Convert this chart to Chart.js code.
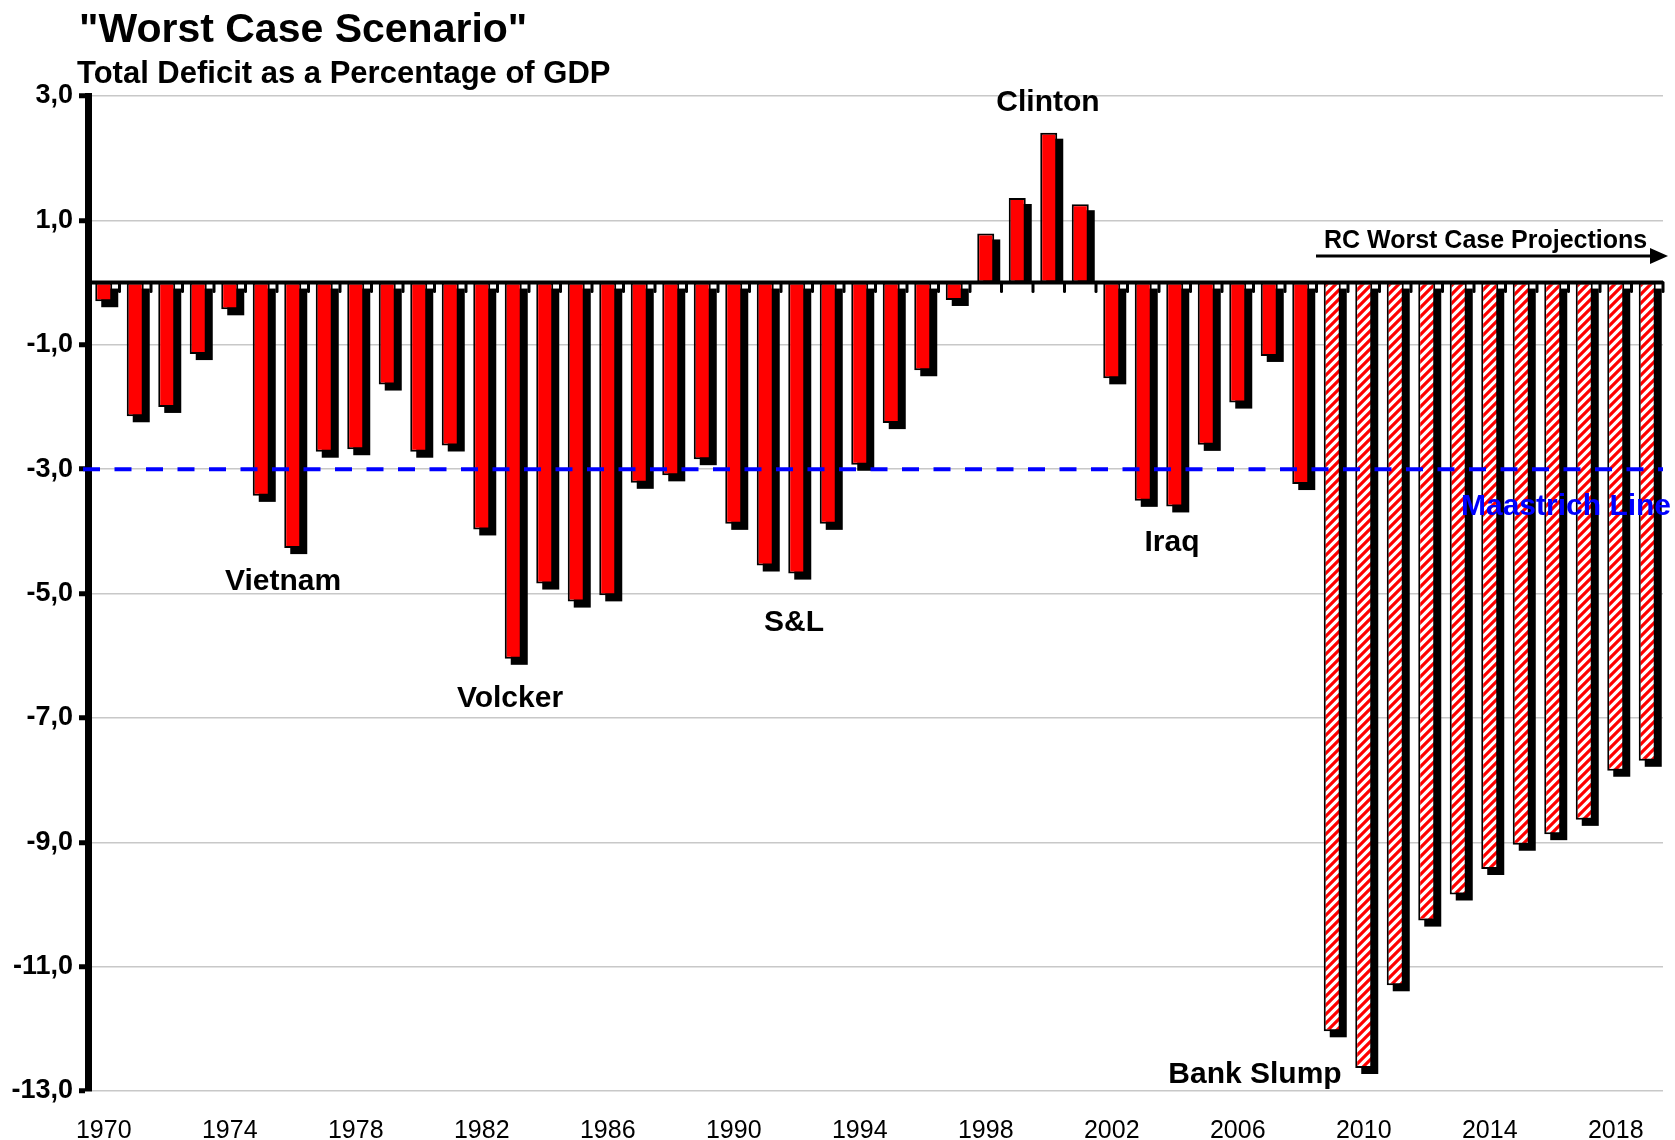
<!DOCTYPE html>
<html>
<head>
<meta charset="utf-8">
<style>
html,body{margin:0;padding:0;background:#ffffff;}
canvas{display:block;}
</style>
<script src="https://cdn.jsdelivr.net/npm/chart.js@4.4.0/dist/chart.umd.min.js"></script>
</head>
<body>
<canvas id="c" width="1675" height="1140" style="width:1675px;height:1140px"></canvas>
<script>
// ---- data ----
const years = ['1970','1971','1972','1973','1974','1975','1976','1977','1978','1979',
  '1980','1981','1982','1983','1984','1985','1986','1987','1988','1989',
  '1990','1991','1992','1993','1994','1995','1996','1997','1998','1999',
  '2000','2001','2002','2003','2004','2005','2006','2007','2008','2009',
  '2010','2011','2012','2013','2014','2015','2016','2017','2018','2019'];
// actual deficit as % of GDP, 1970-2008
const actualDeficit = [-0.30,-2.15,-2.00,-1.15,-0.43,-3.43,-4.27,-2.72,-2.68,-1.64,
  -2.72,-2.62,-3.97,-6.05,-4.84,-5.13,-5.03,-3.22,-3.10,-2.84,
  -3.88,-4.55,-4.68,-3.88,-2.93,-2.26,-1.41,-0.28,0.79,1.36,
  2.41,1.26,-1.54,-3.51,-3.60,-2.61,-1.93,-1.18,-3.24];
// RC worst case projections, 2009-2019
const projectedDeficit = [-12.04,-12.63,-11.30,-10.26,-9.84,-9.43,-9.04,-8.87,-8.64,-7.85,-7.69];
const shownYearLabels = ['1970','1974','1978','1982','1986','1990','1994','1998','2002','2006','2010','2014','2018'];
const yMin = -13, yMax = 3, yStep = 2;
const maastrichtLevel = -3;

const FONT = '"Liberation Sans", Arial, Helvetica, sans-serif';

// build dataset arrays
const nActual = actualDeficit.length;
const nProj = projectedDeficit.length;
const actualData = actualDeficit.concat(new Array(nProj).fill(null));
const projData = new Array(nActual).fill(null).concat(projectedDeficit);

function makeHatch(){
  const s = 9;
  const c = document.createElement('canvas');
  c.width = s; c.height = s;
  const g = c.getContext('2d');
  g.fillStyle = '#ffffff';
  g.fillRect(0,0,s,s);
  g.strokeStyle = '#ff0000';
  g.lineWidth = 3.2;
  g.beginPath();
  g.moveTo(-2, s+2); g.lineTo(s+2, -2);
  g.moveTo(-2, 2); g.lineTo(2, -2);
  g.moveTo(s-2, s+2); g.lineTo(s+2, s-2);
  g.stroke();
  return g.createPattern(c, 'repeat');
}
const ctxMain = document.getElementById('c').getContext('2d');
const hatch = makeHatch();

const SHADOW = 6;

const shadowPlugin = {
  id: 'barShadow',
  beforeDatasetsDraw(chart){
    const ctx = chart.ctx;
    const base = chart.scales.y.getPixelForValue(0);
    ctx.save();
    ctx.fillStyle = '#000000';
    chart.data.datasets.forEach((ds, di) => {
      const meta = chart.getDatasetMeta(di);
      meta.data.forEach((el, i) => {
        if (ds.data[i] === null || ds.data[i] === undefined) return;
        const p = el.getProps(['x','y','width'], true);
        let top, bot;
        if (p.y >= base) { top = base + SHADOW; bot = p.y + SHADOW; }
        else { top = p.y + SHADOW; bot = base; }
        ctx.fillRect(p.x - p.width/2 + SHADOW, top, p.width, bot - top);
      });
    });
    ctx.restore();
  }
};

const overlayPlugin = {
  id: 'overlay',
  afterDatasetsDraw(chart){
    const ctx = chart.ctx;
    const area = chart.chartArea;
    const ys = chart.scales.y, xs = chart.scales.x;
    const y0 = ys.getPixelForValue(0);
    ctx.save();
    // category boundary ticks under the zero line
    const half = (xs.getPixelForValue(1) - xs.getPixelForValue(0)) / 2;
    ctx.strokeStyle = '#000';
    ctx.lineWidth = 3;
    ctx.lineCap = 'round';
    for (let i = 0; i <= years.length; i++) {
      const x = xs.getPixelForValue(Math.min(i, years.length-1)) + (i === years.length ? half : -half);
      ctx.beginPath();
      ctx.moveTo(x, y0);
      ctx.lineTo(x, y0 + 9);
      ctx.stroke();
    }
    // zero line
    ctx.lineCap = 'butt';
    ctx.lineWidth = 4;
    ctx.beginPath();
    ctx.moveTo(area.left, y0);
    ctx.lineTo(area.right, y0);
    ctx.stroke();
    // Maastricht line
    const ym = ys.getPixelForValue(maastrichtLevel);
    ctx.strokeStyle = '#0000ff';
    ctx.lineWidth = 4;
    ctx.setLineDash([17, 14.5]);
    ctx.beginPath();
    ctx.moveTo(area.left - 5, ym);
    ctx.lineTo(area.right, ym);
    ctx.stroke();
    ctx.setLineDash([]);
    ctx.restore();
  },
  afterDraw(chart){
    const ctx = chart.ctx;
    ctx.save();
    ctx.textBaseline = 'alphabetic';
    ctx.fillStyle = '#000';
    ctx.textAlign = 'left';
    ctx.font = 'bold 41px ' + FONT;
    ctx.fillText('"Worst Case Scenario"', 79, 42);
    ctx.font = 'bold 31px ' + FONT;
    ctx.fillText('Total Deficit as a Percentage of GDP', 77, 83);

    ctx.textAlign = 'center';
    ctx.font = 'bold 30px ' + FONT;
    ctx.fillText('Clinton', 1048, 111);
    ctx.fillText('Vietnam', 283, 590);
    ctx.fillText('Volcker', 510, 707);
    ctx.fillText('S&L', 794, 631);
    ctx.fillText('Iraq', 1172, 551);
    ctx.fillText('Bank Slump', 1255, 1083);

    ctx.textAlign = 'left';
    ctx.font = 'bold 25px ' + FONT;
    ctx.fillText('RC Worst Case Projections', 1324, 248);
    // arrow
    ctx.strokeStyle = '#000';
    ctx.lineWidth = 3;
    ctx.beginPath();
    ctx.moveTo(1316, 256);
    ctx.lineTo(1652, 256);
    ctx.stroke();
    ctx.beginPath();
    ctx.moveTo(1668, 256);
    ctx.lineTo(1650, 248);
    ctx.lineTo(1650, 264);
    ctx.closePath();
    ctx.fill();

    ctx.fillStyle = '#0000ff';
    ctx.font = 'bold 30px ' + FONT;
    ctx.fillText('Maastrich Line', 1461, 515);
    ctx.restore();
  }
};

new Chart(ctxMain, {
  type: 'bar',
  data: {
    labels: years,
    datasets: [
      {
        label: 'Total Deficit',
        data: actualData,
        backgroundColor: '#ff0000',
        borderColor: '#000000',
        borderWidth: 2,
        borderSkipped: false,
        grouped: false,
        barPercentage: 0.54,
        categoryPercentage: 1.0
      },
      {
        label: 'RC Worst Case Projections',
        data: projData,
        backgroundColor: hatch,
        borderColor: '#000000',
        borderWidth: 2,
        borderSkipped: false,
        grouped: false,
        barPercentage: 0.54,
        categoryPercentage: 1.0
      }
    ]
  },
  options: {
    responsive: false,
    animation: false,
    devicePixelRatio: 1,
    layout: { padding: { left: 0, top: 96, right: 12, bottom: 0 } },
    plugins: {
      legend: { display: false },
      tooltip: { enabled: false },
      title: { display: false }
    },
    scales: {
      x: {
        type: 'category',
        offset: true,
        grid: { display: false, drawTicks: false },
        border: { display: false },
        ticks: {
          autoSkip: false,
          maxRotation: 0,
          minRotation: 0,
          padding: 25,
          color: '#000',
          font: { family: FONT, size: 25, weight: 'normal' },
          callback: function(value, index){
            const lab = years[index];
            return shownYearLabels.includes(lab) ? lab : '';
          }
        },
        afterFit: function(s){ s.height = 49; }
      },
      y: {
        min: yMin,
        max: yMax,
        grid: {
          color: '#c8c8c8',
          lineWidth: 1.5,
          drawTicks: true,
          tickLength: 9,
          tickWidth: 5,
          tickColor: '#000'
        },
        border: { display: true, color: '#000', width: 7 },
        ticks: {
          stepSize: yStep,
          padding: 6,
          color: '#000',
          font: { family: FONT, size: 27, weight: 'bold' },
          callback: function(v){ return v.toFixed(1).replace('.', ','); }
        },
        afterFit: function(s){ s.width = 88; }
      }
    }
  },
  plugins: [shadowPlugin, overlayPlugin]
});
</script>
</body>
</html>
